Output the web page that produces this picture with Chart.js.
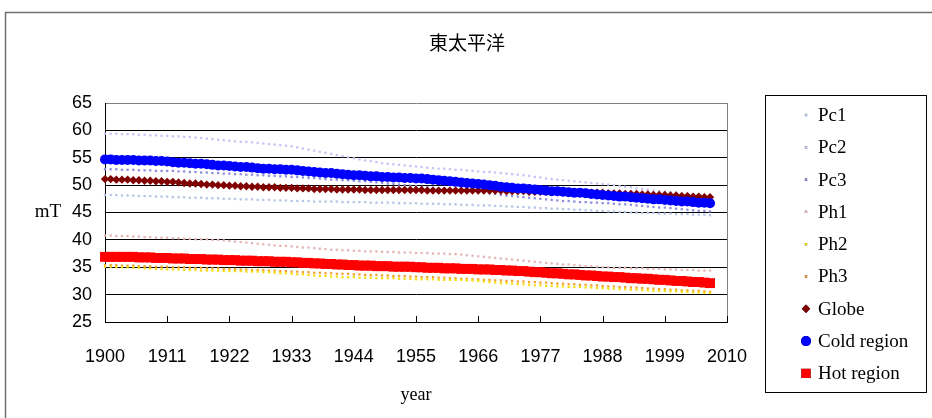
<!DOCTYPE html>
<html>
<head>
<meta charset="utf-8">
<script src="https://cdn.jsdelivr.net/npm/chart.js@4.4.1/dist/chart.umd.min.js"></script>
<style>
  html, body { margin: 0; padding: 0; background: #fff; }
  canvas { display: block; }
</style>
</head>
<body>
<canvas id="c" width="932" height="418"></canvas>
<script>
// ---------- DATA ----------
const chartTitle = '東太平洋';
const yAxisTitle = 'mT';
const xAxisTitle = 'year';
const years = [
  1900,1901,1902,1903,1904,1905,1906,1907,1908,1909,
  1910,1911,1912,1913,1914,1915,1916,1917,1918,1919,
  1920,1921,1922,1923,1924,1925,1926,1927,1928,1929,
  1930,1931,1932,1933,1934,1935,1936,1937,1938,1939,
  1940,1941,1942,1943,1944,1945,1946,1947,1948,1949,
  1950,1951,1952,1953,1954,1955,1956,1957,1958,1959,
  1960,1961,1962,1963,1964,1965,1966,1967,1968,1969,
  1970,1971,1972,1973,1974,1975,1976,1977,1978,1979,
  1980,1981,1982,1983,1984,1985,1986,1987,1988,1989,
  1990,1991,1992,1993,1994,1995,1996,1997,1998,1999,
  2000,2001,2002,2003,2004,2005,2006,2007,2008,2009,
  2010
];
const yTicks = [25, 30, 35, 40, 45, 50, 55, 60, 65];

const pc1 = [
  48.2,48.2,48.2,48.1,48.1,48.1,48.0,48.0,48.0,47.9,
  47.9,47.9,47.8,47.8,47.8,47.7,47.7,47.7,47.6,47.6,
  47.6,47.5,47.5,47.5,47.4,47.4,47.4,47.3,47.3,47.3,
  47.2,47.2,47.2,47.1,47.1,47.1,47.1,47.0,47.0,47.0,
  47.0,47.0,46.9,46.9,46.9,46.9,46.9,46.8,46.8,46.8,
  46.8,46.8,46.7,46.7,46.7,46.7,46.6,46.6,46.6,46.6,
  46.5,46.5,46.5,46.4,46.4,46.4,46.3,46.3,46.3,46.2,
  46.2,46.1,46.1,46.0,46.0,45.9,45.9,45.8,45.8,45.7,
  45.7,45.6,45.6,45.5,45.5,45.4,45.4,45.3,45.3,45.2,
  45.2,45.1,45.1,45.0,45.0,44.9,44.9,44.9,44.8,44.8,
  44.8,44.7,44.7,44.7,44.6,44.6,44.6,44.5
];
const pc2 = [
  59.4,59.4,59.4,59.3,59.3,59.3,59.2,59.2,59.1,59.1,
  59.0,59.0,58.9,58.9,58.8,58.8,58.7,58.6,58.5,58.4,
  58.3,58.2,58.1,58.0,57.9,57.9,57.8,57.7,57.6,57.5,
  57.4,57.3,57.2,57.1,56.9,56.7,56.5,56.3,56.1,55.9,
  55.7,55.5,55.3,55.1,54.9,54.7,54.5,54.4,54.2,54.0,
  53.9,53.8,53.7,53.6,53.5,53.4,53.3,53.2,53.1,53.0,
  53.0,52.9,52.8,52.8,52.7,52.6,52.5,52.4,52.4,52.3,
  52.2,52.1,52.0,51.9,51.8,51.7,51.5,51.4,51.2,51.1,
  51.0,50.9,50.8,50.7,50.6,50.5,50.4,50.3,50.2,50.1,
  50.0,49.8,49.7,49.6,49.4,49.3,49.2,49.0,48.9,48.8,
  48.7,48.6,48.5,48.4,48.3,48.2,48.1,48.0
];
const pc3 = [
  52.9,52.9,52.9,52.8,52.8,52.8,52.7,52.7,52.7,52.6,
  52.6,52.6,52.6,52.5,52.5,52.4,52.4,52.3,52.3,52.2,
  52.2,52.1,52.1,52.0,52.0,51.9,51.9,51.8,51.8,51.7,
  51.7,51.6,51.6,51.5,51.5,51.4,51.3,51.3,51.2,51.1,
  51.0,51.0,50.9,50.9,50.8,50.7,50.7,50.6,50.5,50.4,
  50.3,50.2,50.1,50.0,49.9,49.8,49.7,49.6,49.5,49.4,
  49.3,49.2,49.1,49.0,48.9,48.8,48.7,48.6,48.5,48.4,
  48.2,48.1,48.0,47.9,47.8,47.7,47.6,47.5,47.4,47.3,
  47.2,47.1,47.1,47.0,46.9,46.9,46.8,46.8,46.7,46.7,
  46.6,46.5,46.5,46.4,46.3,46.2,46.1,46.0,45.9,45.9,
  45.8,45.7,45.6,45.5,45.4,45.3,45.3,45.2
];
const ph1 = [
  40.8,40.8,40.7,40.7,40.7,40.6,40.6,40.5,40.5,40.4,
  40.4,40.4,40.3,40.3,40.2,40.2,40.1,40.1,40.1,40.0,
  40.0,39.9,39.8,39.7,39.6,39.5,39.4,39.3,39.2,39.1,
  39.0,38.9,38.9,38.8,38.7,38.6,38.6,38.5,38.4,38.3,
  38.2,38.2,38.1,38.1,38.0,38.0,37.9,37.9,37.9,37.8,
  37.8,37.8,37.7,37.7,37.7,37.6,37.6,37.6,37.5,37.5,
  37.5,37.4,37.4,37.3,37.2,37.1,37.0,36.9,36.8,36.7,
  36.6,36.5,36.4,36.3,36.2,36.1,36.0,35.9,35.8,35.7,
  35.6,35.5,35.5,35.4,35.3,35.2,35.2,35.1,35.0,35.0,
  34.9,34.9,34.9,34.8,34.8,34.8,34.7,34.7,34.7,34.6,
  34.6,34.6,34.5,34.5,34.5,34.4,34.4,34.4
];
const ph2 = [
  35.1,35.1,35.0,35.0,35.0,34.9,34.9,34.8,34.8,34.7,
  34.7,34.6,34.6,34.6,34.5,34.5,34.5,34.4,34.4,34.4,
  34.4,34.3,34.3,34.3,34.3,34.2,34.2,34.2,34.1,34.1,
  34.0,33.9,33.9,33.8,33.7,33.7,33.6,33.5,33.4,33.4,
  33.3,33.3,33.2,33.2,33.2,33.1,33.1,33.1,33.0,33.0,
  33.0,33.0,32.9,32.9,32.9,32.8,32.8,32.8,32.8,32.7,
  32.7,32.7,32.7,32.7,32.6,32.6,32.5,32.4,32.3,32.2,
  32.1,32.1,32.0,31.9,31.9,31.8,31.7,31.7,31.6,31.6,
  31.5,31.5,31.4,31.4,31.4,31.3,31.3,31.2,31.2,31.1,
  31.1,31.0,31.0,30.9,30.9,30.8,30.8,30.7,30.7,30.7,
  30.6,30.6,30.5,30.5,30.4,30.4,30.3,30.3
];
const ph3 = [
  35.4,35.4,35.4,35.3,35.3,35.3,35.2,35.2,35.2,35.1,
  35.1,35.1,35.0,35.0,35.0,34.9,34.9,34.9,34.8,34.8,
  34.8,34.7,34.7,34.7,34.6,34.6,34.5,34.5,34.5,34.4,
  34.4,34.3,34.3,34.2,34.2,34.1,34.1,34.0,34.0,33.9,
  33.9,33.8,33.8,33.8,33.7,33.7,33.6,33.6,33.6,33.5,
  33.5,33.4,33.4,33.4,33.3,33.3,33.2,33.2,33.2,33.1,
  33.1,33.0,33.0,32.9,32.9,32.8,32.8,32.7,32.7,32.6,
  32.6,32.5,32.5,32.4,32.4,32.3,32.3,32.2,32.2,32.1,
  32.0,32.0,31.9,31.9,31.8,31.8,31.7,31.7,31.6,31.5,
  31.5,31.4,31.4,31.3,31.3,31.2,31.1,31.1,31.0,31.0,
  30.9,30.9,30.8,30.8,30.7,30.7,30.6,30.5
];
const globe = [
  51.1,51.1,51.0,51.0,51.0,50.9,50.9,50.8,50.8,50.7,
  50.7,50.6,50.6,50.5,50.4,50.3,50.3,50.2,50.1,50.1,
  50.0,50.0,49.9,49.9,49.8,49.8,49.7,49.7,49.6,49.6,
  49.6,49.5,49.5,49.5,49.4,49.4,49.4,49.3,49.3,49.3,
  49.3,49.2,49.2,49.2,49.2,49.2,49.1,49.1,49.1,49.1,
  49.1,49.1,49.1,49.1,49.1,49.1,49.1,49.0,49.0,49.0,
  49.0,49.0,49.0,49.0,49.0,49.0,49.0,49.0,49.0,49.0,
  49.0,48.9,48.9,48.9,48.9,48.8,48.8,48.8,48.8,48.8,
  48.7,48.7,48.7,48.7,48.7,48.6,48.6,48.6,48.6,48.5,
  48.5,48.5,48.4,48.4,48.4,48.3,48.3,48.2,48.2,48.2,
  48.1,48.1,48.0,48.0,47.9,47.9,47.8,47.8
];
const coldRegion = [
  54.7,54.7,54.6,54.6,54.6,54.6,54.5,54.5,54.5,54.4,
  54.4,54.3,54.2,54.1,54.1,54.0,53.9,53.9,53.8,53.7,
  53.6,53.6,53.5,53.4,53.3,53.3,53.2,53.1,53.0,53.0,
  52.9,52.9,52.8,52.8,52.7,52.6,52.5,52.4,52.3,52.2,
  52.2,52.1,52.0,51.9,51.8,51.8,51.7,51.6,51.6,51.5,
  51.5,51.4,51.4,51.3,51.3,51.2,51.2,51.1,51.0,50.9,
  50.8,50.7,50.6,50.5,50.4,50.3,50.2,50.1,50.0,49.9,
  49.7,49.6,49.5,49.4,49.4,49.3,49.2,49.1,49.0,48.9,
  48.9,48.8,48.7,48.6,48.6,48.5,48.4,48.3,48.2,48.1,
  48.0,47.9,47.9,47.8,47.7,47.6,47.5,47.4,47.4,47.3,
  47.2,47.1,47.0,47.0,46.9,46.8,46.8,46.7
];
const hotRegion = [
  36.9,36.9,36.9,36.9,36.9,36.9,36.8,36.8,36.8,36.7,
  36.7,36.7,36.6,36.6,36.6,36.5,36.5,36.5,36.4,36.4,
  36.4,36.3,36.3,36.3,36.2,36.2,36.2,36.1,36.1,36.1,
  36.0,36.0,36.0,35.9,35.9,35.8,35.8,35.7,35.7,35.6,
  35.6,35.5,35.5,35.4,35.4,35.3,35.3,35.3,35.2,35.2,
  35.2,35.1,35.1,35.1,35.1,35.0,35.0,34.9,34.9,34.9,
  34.8,34.8,34.8,34.7,34.7,34.7,34.6,34.6,34.6,34.5,
  34.5,34.4,34.4,34.3,34.3,34.2,34.1,34.1,34.0,33.9,
  33.9,33.8,33.7,33.7,33.6,33.5,33.5,33.4,33.3,33.3,
  33.2,33.2,33.1,33.0,33.0,32.9,32.9,32.8,32.7,32.7,
  32.6,32.5,32.5,32.4,32.3,32.3,32.2,32.1
];

const seriesNames = ['Pc1','Pc2','Pc3','Ph1','Ph2','Ph3','Globe','Cold region','Hot region'];
const seriesValues = [pc1, pc2, pc3, ph1, ph2, ph3, globe, coldRegion, hotRegion];

// ---------- STYLES ----------
const styles = [
  { color: '#b4c4e4', style: 'rect', radius: 1.6, order: 10 },
  { color: '#c4c4f4', style: 'rect', radius: 1.6, order: 10 },
  { color: '#8c8cdc', style: 'rect', radius: 1.6, order: 10 },
  { color: '#e4b4b4', style: 'rect', radius: 1.6, order: 10 },
  { color: '#f4dc10', style: 'rect', radius: 1.6, order: 10 },
  { color: '#f4a030', style: 'rect', radius: 1.6, order: 10 },
  { color: '#800000', style: 'rectRot', radius: 4.2, order: 3 },
  { color: '#0000ff', style: 'circle', radius: 5, order: 2 },
  { color: '#ff0000', style: 'rect', radius: 7, order: 1 }
];

const datasets = seriesNames.map((name, i) => ({
  label: name,
  data: seriesValues[i],
  showLine: false,
  pointStyle: styles[i].style,
  pointRadius: styles[i].radius,
  pointBackgroundColor: styles[i].color,
  pointBorderColor: styles[i].color,
  pointBorderWidth: 0,
  backgroundColor: styles[i].color,
  borderColor: styles[i].color,
  order: styles[i].order
}));

const serif = "'Liberation Serif', 'DejaVu Serif', serif";
const sans = "'Liberation Sans', Arial, sans-serif";

const decorPlugin = {
  id: 'decor',
  beforeDraw(chart) {
    const ctx = chart.ctx;
    ctx.save();
    ctx.fillStyle = '#fff';
    ctx.fillRect(0, 0, chart.width, chart.height);
    ctx.strokeStyle = '#707070';
    ctx.lineWidth = 1.5;
    ctx.strokeRect(5.5, 12.5, 960, 440);
    ctx.restore();
  },
  afterDraw(chart) {
    const ctx = chart.ctx;
    const a = chart.chartArea;
    const xs = chart.scales.x;
    ctx.save();
    // plot border (top/right) grey
    ctx.strokeStyle = '#808080';
    ctx.lineWidth = 1;
    ctx.beginPath();
    ctx.moveTo(a.right + 0.5, a.top);
    ctx.lineTo(a.right + 0.5, a.bottom);
    ctx.stroke();
    // inside tick marks on x axis
    ctx.strokeStyle = '#000';
    ctx.beginPath();
    years.forEach((yr, i) => {
      if (i % 11 === 0 && i > 0) {
        const px = Math.round(xs.getPixelForValue(i)) + 0.5;
        ctx.moveTo(px, a.bottom);
        ctx.lineTo(px, a.bottom - 6);
      }
    });
    ctx.stroke();
    // title
    ctx.fillStyle = '#000';
    ctx.textAlign = 'center';
    ctx.textBaseline = 'middle';
    ctx.font = "19px 'Noto Sans CJK TC', 'Noto Sans CJK SC', sans-serif";
    ctx.fillText(chartTitle, 467, 43);
    // y axis title (horizontal)
    ctx.font = '19px ' + serif;
    ctx.fillText(yAxisTitle, 48, 212);
    // legend
    const lx = 765.5, ly = 95.5, lw = 161, lh = 297;
    ctx.strokeStyle = '#000';
    ctx.lineWidth = 1;
    ctx.strokeRect(lx, ly, lw, lh);
    ctx.textAlign = 'left';
    ctx.font = '19px ' + serif;
    chart.data.datasets.forEach((ds, i) => {
      const cy = 115 + i * 32.3;
      const r = i < 6 ? 1.6 : Math.min(ds.pointRadius, 5);
      Chart.helpers.drawPoint(ctx, {
        pointStyle: ds.pointStyle,
        radius: ds.pointStyle === 'rect' && i === 8 ? 6.5 : r,
        borderWidth: 0,
        rotation: 0
      }, 806, cy);
      ctx.fillStyle = ds.pointBackgroundColor;
      ctx.fill();
      ctx.fillStyle = '#000';
      ctx.fillText(ds.label, 818, cy + 1);
    });
    ctx.restore();
  }
};

new Chart(document.getElementById('c'), {
  type: 'line',
  data: { labels: years, datasets },
  plugins: [decorPlugin],
  options: {
    responsive: false,
    animation: false,
    devicePixelRatio: 1,
    events: [],
    layout: { padding: { top: 103, right: 205, left: 0, bottom: 0 } },
    plugins: { legend: { display: false }, title: { display: false }, tooltip: { enabled: false } },
    scales: {
      x: {
        type: 'category',
        offset: false,
        grid: { display: false, drawTicks: false },
        border: { display: true, color: '#000', width: 1 },
        ticks: {
          autoSkip: false,
          maxRotation: 0,
          minRotation: 0,
          padding: 24,
          color: '#000',
          font: { family: sans, size: 18 },
          callback: (v, i) => (i % 11 === 0 ? String(years[i]) : '')
        },
        title: { display: true, text: xAxisTitle, color: '#000', font: { family: serif, size: 18 }, padding: { top: 0, bottom: 12 } },
        afterFit: s => { s.height = 96; }
      },
      y: {
        min: yTicks[0],
        max: yTicks[yTicks.length - 1],
        afterBuildTicks: s => { s.ticks = yTicks.map(v => ({ value: v })); },
        grid: {
          drawTicks: false,
          color: c => (c.tick && c.tick.value === 65 ? '#808080' : '#000'),
          lineWidth: 1
        },
        border: { display: true, color: '#000', width: 1 },
        ticks: { padding: 13, color: '#000', font: { family: sans, size: 18 } },
        afterFit: s => { s.width = 105; }
      }
    }
  }
});
</script>
</body>
</html>
